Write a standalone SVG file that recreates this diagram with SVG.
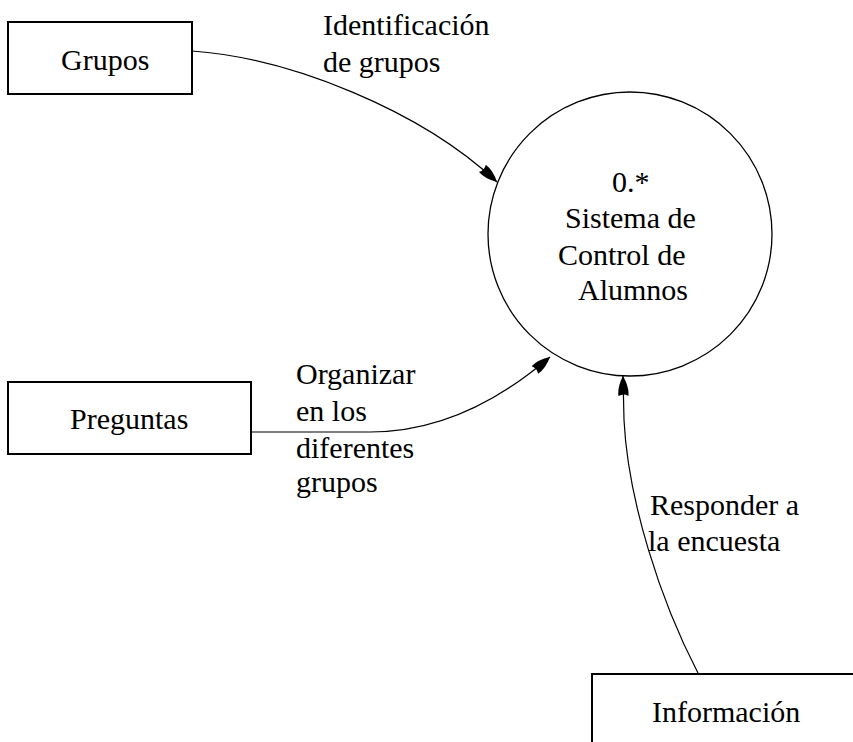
<svg xmlns="http://www.w3.org/2000/svg" width="853" height="742" viewBox="0 0 853 742">
<style>
  .box { fill: #fff; stroke: #000; stroke-width: 2; }
  .proc { fill: #fff; stroke: #000; stroke-width: 1.3; }
  .lbl { font-family: "Liberation Serif", "Times New Roman", serif; font-size: 30px; fill: #000; }
  .flow { fill: none; stroke: #000; stroke-width: 1.2; }
</style>
<defs>
  <marker id="arr" viewBox="0 0 20 12" refX="20" refY="6" markerWidth="20" markerHeight="12" markerUnits="userSpaceOnUse" orient="auto">
    <path d="M0,1 Q9,0 20,6 Q9,12 0,11 Q3,6 0,1 Z" fill="#000"/>
  </marker>
</defs>
<rect width="853" height="742" fill="#fff"/>

<g id="grupos">
  <rect class="box" x="8" y="22" width="184" height="72"/>
  <text class="lbl" x="61" y="70">Grupos</text>
</g>

<g id="preguntas">
  <rect class="box" x="8" y="382" width="243" height="72"/>
  <text class="lbl" x="70" y="429">Preguntas</text>
</g>

<g id="informacion">
  <rect class="box" x="592" y="674" width="300" height="100"/>
  <text class="lbl" x="652" y="722">Información</text>
</g>

<g id="sistema">
  <circle class="proc" cx="630" cy="234" r="142"/>
  <text class="lbl" x="612" y="192">0.*</text>
  <text class="lbl" x="565" y="228">Sistema de</text>
  <text class="lbl" x="558" y="265">Control de</text>
  <text class="lbl" x="578" y="300">Alumnos</text>
</g>

<g id="connectors">
  <path class="flow" d="M192,51 C290,58 420,110 497,182" marker-end="url(#arr)"/>
  <path class="flow" d="M251,432 L370,432 C440,432 500,400 550,357" marker-end="url(#arr)"/>
  <path class="flow" d="M698,673 C660,600 628,500 624,420 L623,376" marker-end="url(#arr)"/>
  <g id="flow-labels">
    <text class="lbl" x="323" y="35">Identificación</text>
    <text class="lbl" x="323" y="72">de grupos</text>
    <text class="lbl" x="296" y="384">Organizar</text>
    <text class="lbl" x="296" y="421">en los</text>
    <text class="lbl" x="296" y="458">diferentes</text>
    <text class="lbl" x="296" y="492">grupos</text>
    <text class="lbl" x="650" y="515">Responder a</text>
    <text class="lbl" x="648" y="551">la encuesta</text>
  </g>
</g>
</svg>
